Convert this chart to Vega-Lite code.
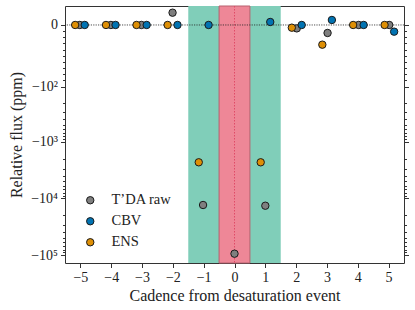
{
  "$schema": "https://vega.github.io/schema/vega-lite/v6.json",
  "width": 339,
  "height": 257,
  "autosize": {"type": "none"},
  "padding": {"left": 65, "top": 6, "right": 11, "bottom": 47},
  "background": "white",
  "config": {
    "view": {"stroke": "#333333", "strokeWidth": 1},
    "font": "Liberation Serif",
    "axis": {"labelFont": "Liberation Serif", "titleFont": "Liberation Serif", "labelFontSize": 14, "titleFontSize": 16, "titleFontWeight": "normal", "labelColor": "#222222", "titleColor": "#222222", "tickColor": "#333333", "domain": false, "grid": false},
    "axisX": {"labelOverlap": false},
    "legend": {"labelFont": "Liberation Serif", "labelFontSize": 14.5, "labelColor": "#222222"}
  },
  "datasets": {
    "points": [
      {"series": "T’DA raw", "cadence": -5.02, "flux": 0},
      {"series": "T’DA raw", "cadence": -4.01, "flux": 0},
      {"series": "T’DA raw", "cadence": -3.02, "flux": 0},
      {"series": "T’DA raw", "cadence": -2.01, "flux": 5.8},
      {"series": "T’DA raw", "cadence": -1.02, "flux": -13150},
      {"series": "T’DA raw", "cadence": 0.0, "flux": -94500},
      {"series": "T’DA raw", "cadence": 1.0, "flux": -13540},
      {"series": "T’DA raw", "cadence": 2.02, "flux": -1.33},
      {"series": "T’DA raw", "cadence": 3.02, "flux": -3.44},
      {"series": "T’DA raw", "cadence": 4.03, "flux": 0},
      {"series": "T’DA raw", "cadence": 5.02, "flux": 0},
      {"series": "CBV", "cadence": -4.86, "flux": 0},
      {"series": "CBV", "cadence": -3.86, "flux": 0},
      {"series": "CBV", "cadence": -2.85, "flux": 0},
      {"series": "CBV", "cadence": -1.85, "flux": 0},
      {"series": "CBV", "cadence": -0.84, "flux": 0},
      {"series": "CBV", "cadence": 1.16, "flux": 1.16},
      {"series": "CBV", "cadence": 2.18, "flux": 0},
      {"series": "CBV", "cadence": 3.16, "flux": 2.02},
      {"series": "CBV", "cadence": 4.19, "flux": 0},
      {"series": "CBV", "cadence": 5.18, "flux": -2.8},
      {"series": "ENS", "cadence": -5.17, "flux": 0},
      {"series": "ENS", "cadence": -4.17, "flux": 0},
      {"series": "ENS", "cadence": -3.18, "flux": 0},
      {"series": "ENS", "cadence": -2.17, "flux": 0},
      {"series": "ENS", "cadence": -1.16, "flux": -2327},
      {"series": "ENS", "cadence": 0.85, "flux": -2327},
      {"series": "ENS", "cadence": 1.86, "flux": -1.04},
      {"series": "ENS", "cadence": 2.85, "flux": -10.98},
      {"series": "ENS", "cadence": 3.85, "flux": 0},
      {"series": "ENS", "cadence": 4.87, "flux": 0}
    ]
  },
  "resolve": {"axis": {"y": "independent"}},
  "layer": [
    {
      "data": {"values": [{"start": -1.5, "end": 1.5}]},
      "mark": {"type": "rect", "color": "#80ceb9"},
      "encoding": {
        "x": {"field": "start", "type": "quantitative", "scale": {"domain": [-5.5, 5.5], "nice": false, "zero": false}, "axis": {"values": [-5, -4, -3, -2, -1, 0, 1, 2, 3, 4, 5], "labelOverlap": false, "tickSize": 4.5, "labelPadding": 3, "title": "Cadence from desaturation event", "titlePadding": 3}},
        "x2": {"field": "end"}
      }
    },
    {
      "data": {"values": [{"start": -0.5, "end": 0.5}]},
      "mark": {"type": "rect", "fill": "#ee8797", "stroke": "#b8606e", "strokeWidth": 1},
      "encoding": {
        "x": {"field": "start", "type": "quantitative", "axis": {"values": [-5, -4, -3, -2, -1, 0, 1, 2, 3, 4, 5], "labelOverlap": false}},
        "x2": {"field": "end"}
      }
    },
    {
      "data": {"values": [{"c": 0}]},
      "mark": {"type": "rule", "color": "#e04a66", "strokeWidth": 1, "strokeDash": [1.5, 1.5]},
      "encoding": {"x": {"field": "c", "type": "quantitative", "axis": {"values": [-5, -4, -3, -2, -1, 0, 1, 2, 3, 4, 5], "labelOverlap": false}}}
    },
    {
      "data": {"values": [{"f": 0}]},
      "mark": {"type": "rule", "color": "#222222", "strokeWidth": 0.8, "strokeDash": [1.2, 1.2]},
      "encoding": {
        "y": {"field": "f", "type": "quantitative",
          "axis": {"orient": "right", "labels": false, "title": null,
            "values": [0, -2.55, -5.83, -10.04, -15.45, -22.38, -31.29, -42.7, -57.4, -76.2, -100, -200, -300, -400, -500, -600, -700, -800, -900, -1000, -2000, -3000, -4000, -5000, -6000, -7000, -8000, -9000, -10000, -20000, -30000, -40000, -50000, -60000, -70000, -80000, -90000, -100000],
            "tickSize": {"condition": {"test": "datum.value == 0 || datum.value == -100 || datum.value == -1000 || datum.value == -10000 || datum.value == -100000", "value": 4.5}, "value": 2.5}
          }
        }
      }
    },
    {
      "data": {"name": "points"},
      "mark": {"type": "point", "filled": true, "shape": "circle", "size": 55, "stroke": "#1a1a1a", "strokeWidth": 1, "opacity": 1},
      "encoding": {
        "x": {"field": "cadence", "type": "quantitative", "axis": {"values": [-5, -4, -3, -2, -1, 0, 1, 2, 3, 4, 5], "labelOverlap": false}},
        "y": {"field": "flux", "type": "quantitative",
          "scale": {"type": "symlog", "constant": 9, "domain": [-137700, 10.4], "nice": false, "zero": false},
          "title": "Relative flux (ppm)",
          "axis": {"orient": "left", "labelOverlap": false, "labelPadding": 3, "titlePadding": 6,
            "values": [0, -2.55, -5.83, -10.04, -15.45, -22.38, -31.29, -42.7, -57.4, -76.2, -100, -200, -300, -400, -500, -600, -700, -800, -900, -1000, -2000, -3000, -4000, -5000, -6000, -7000, -8000, -9000, -10000, -20000, -30000, -40000, -50000, -60000, -70000, -80000, -90000, -100000],
            "labelExpr": "datum.value == 0 ? '0' : datum.value == -100 ? '−10²' : datum.value == -1000 ? '−10³' : datum.value == -10000 ? '−10⁴' : datum.value == -100000 ? '−10⁵' : ''",
            "tickSize": {"condition": {"test": "datum.value == 0 || datum.value == -100 || datum.value == -1000 || datum.value == -10000 || datum.value == -100000", "value": 4.5}, "value": 2.5}
          }
        },
        "color": {"field": "series", "type": "nominal",
          "scale": {"domain": ["T’DA raw", "CBV", "ENS"], "range": ["#7f7f7f", "#0173b2", "#de8f05"]},
          "sort": null,
          "legend": {"title": null, "orient": "none", "legendX": 18, "legendY": 187, "symbolType": "circle", "symbolSize": 55, "symbolStrokeColor": "#1a1a1a", "symbolStrokeWidth": 1, "symbolOpacity": 1, "labelOffset": 14, "rowPadding": 6}
        }
      }
    }
  ]
}
